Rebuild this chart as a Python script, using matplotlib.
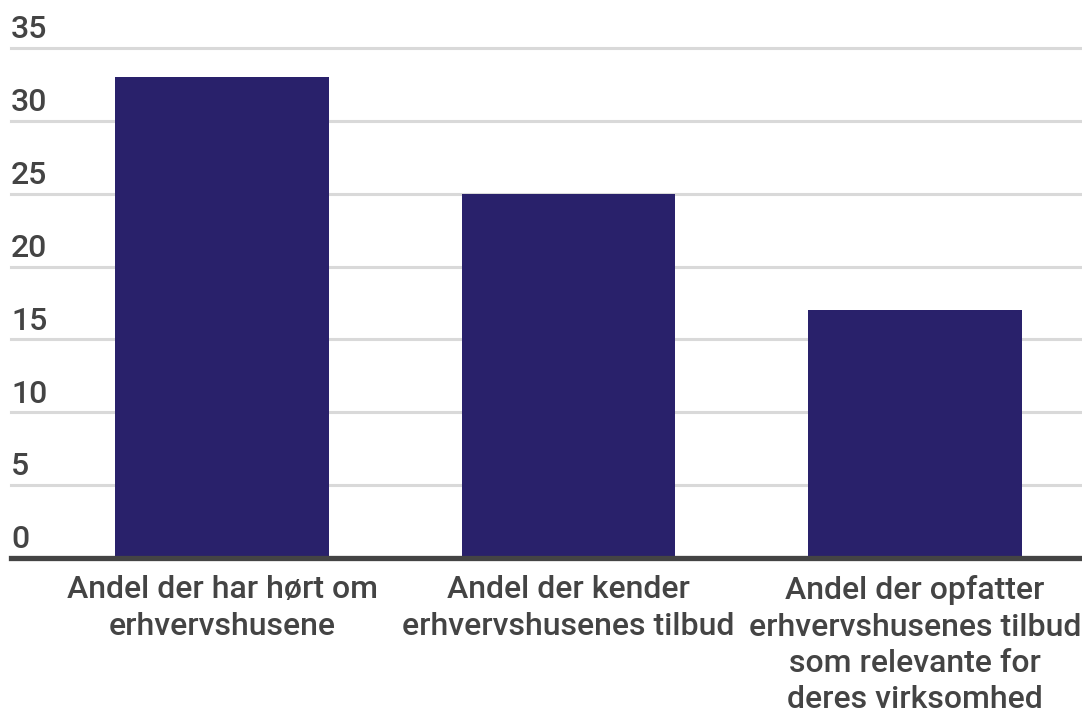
import matplotlib.pyplot as plt
from matplotlib.transforms import blended_transform_factory

plt.rcParams['font.family'] = ['Roboto', 'DejaVu Sans']

categories = ["Andel der har hørt om\nerhvervshusene",
              "Andel der kender\nerhvervshusenes tilbud",
              "Andel der opfatter\nerhvervshusenes tilbud\nsom relevante for\nderes virksomhed"]
values = [33, 25, 17]
yticks = [0, 5, 10, 15, 20, 25, 30, 35]

txt = "#444444"
bar_col = "#29216b"

fig = plt.figure(figsize=(10.82, 7.14), dpi=100)
W, H = 1082, 714
ax = fig.add_axes([11 / W, 1 - 558 / H, 1 - 11 / W, (558 - 48) / H])

x = list(range(len(categories)))
ax.bar(x, values, width=0.616, color=bar_col, zorder=2)
ax.set_xlim(-0.609, 2.482)
ax.set_ylim(0, 35)

# gridlines + labels sitting above them
for v in yticks:
    if v == 0:
        ax.axhline(0, color="#444444", lw=3.8, zorder=3, clip_on=False)
    else:
        ax.axhline(v, color="#d9d9d9", lw=2.2, zorder=1, clip_on=False)
    ax.annotate(str(v), xy=(0, v), xycoords=('axes fraction', 'data'),
                xytext=(0, 7), textcoords='offset points',
                ha='left', va='baseline', fontsize=23, color=txt,
                fontweight='medium')

tr = blended_transform_factory(ax.transData, ax.transAxes)
for xi, lab in zip(x, categories):
    ax.annotate(lab, xy=(xi, 0), xycoords=tr, xytext=(0, -12.5),
                textcoords='offset points', ha='center', va='top',
                fontsize=23, color=txt, linespacing=1.32,
                fontweight='medium')

ax.set_xticks([])
ax.set_yticks([])
for s in ax.spines.values():
    s.set_visible(False)

fig.savefig("out.png", dpi=100)
